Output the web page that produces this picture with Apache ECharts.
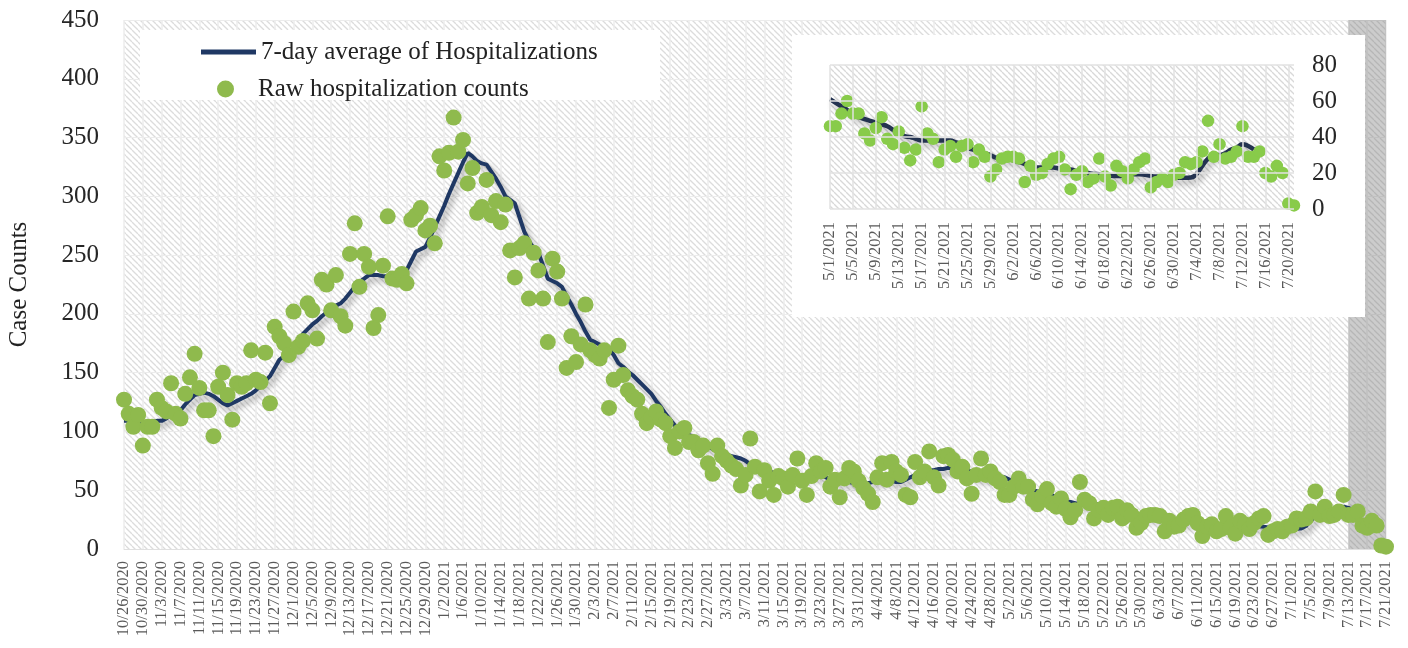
<!DOCTYPE html>
<html>
<head>
<meta charset="utf-8">
<script src="https://cdn.jsdelivr.net/npm/echarts@6/dist/echarts.min.js"></script>
<style>html,body{margin:0;padding:0;background:#fff}#c{width:1408px;height:648px}</style>
</head>
<body>
<div id="c"></div>
<script>
// ---------- DATA ----------
const startDate = [2020, 9, 26];   // 10/26/2020
const dayCount = 269;              // through 7/21/2021
const insetStartIndex = 187;       // 5/1/2021

const seriesNames = ['7-day average of Hospitalizations', 'Raw hospitalization counts'];
const yTicksMain = [0, 50, 100, 150, 200, 250, 300, 350, 400, 450];
const yTicksInset = [0, 20, 40, 60, 80];
const shadedFrom = '7/13/2021';
const shadedTo = '7/21/2021';

// raw counts 10/26/2020 - 4/30/2021
const rawOctApr = [
 127,115,104,114,88,104,104,127,120,117,
 141,115,111,132,146,166,137,118,118,96,
 138,150,131,110,141,138,141,169,144,142,
 167,124,189,181,175,165,202,172,177,209,
 203,179,229,225,203,233,198,190,251,277,
 223,251,240,188,199,241,283,230,229,234,
 226,280,284,290,271,275,260,334,322,337,
 367,338,348,311,324,286,291,314,284,296,
 278,293,254,231,256,260,213,252,237,213,
 176,247,236,213,154,181,159,174,208,169,
 165,162,169,120,144,173,148,135,130,127,
 115,107,112,117,110,107,96,86,100,103,
 91,91,84,88,73,64,88,79,75,71,
 68,54,63,94,70,49,67,58,46,62,
 60,53,63,77,58,46,62,73,66,69,
 53,59,44,60,69,66,58,52,47,40,
 61,73,59,74,66,63,46,44,74,61,
 66,83,61,54,79,80,76,66,70,60,
 47,63,77,63,66,60,57
];
// raw counts 5/1/2021 - 7/21/2021
const rawMayJul = [
 46,46,53,60,53,53,42,38,45,51,
 39,36,43,34,27,33,57,42,39,26,
 33,35,29,35,36,26,33,29,18,22,
 28,29,29,28,15,24,19,20,25,28,
 29,22,11,19,21,15,17,28,18,13,
 24,21,17,22,26,28,12,15,17,15,
 19,20,26,25,26,32,49,29,36,28,
 29,32,46,29,29,32,20,18,24,20,
 3,2
];
// 7-day average, 10/26/2020 - 4/30/2021
const avgOctApr = [
 109,109,108,108,108,108,108,109,109,111,
 114,116,118,123,127,131,132,133,132,130,
 127,124,122,124,126,128,130,132,135,139,
 143,147,154,161,164,166,167,172,183,187,
 191,194,198,201,204,207,209,213,218,223,
 227,230,233,233,233,232,232,230,229,233,
 237,245,253,255,257,265,274,283,292,302,
 311,320,329,337,334,330,328,327,321,315,
 308,300,297,294,282,270,262,256,252,241,
 230,228,226,223,215,208,200,193,185,178,
 176,174,172,171,165,158,155,151,148,144,
 140,136,132,126,121,115,110,105,102,100,
 97,95,92,90,87,85,83,82,80,79,
 78,77,75,72,70,69,67,66,65,64,
 63,62,62,62,62,62,63,63,63,61,
 59,57,57,57,57,56,56,56,56,57,
 58,59,59,58,57,57,59,61,63,65,
 66,67,67,68,68,69,69,70,70,68,
 65,61,61,61,60,60,61
];
// 7-day average, 5/1/2021 - 7/21/2021
const avgMayJul = [
 61,59,57,55,52,51,50,49,48,47,
 46,44,42,40.5,40,39,38,38,38,38,
 38,38,37,36,34,33,32,31,30,28.5,
 28,27.6,27,26,25,23,23,23,23,23,
 22.5,22,22,21,20.5,20,19.5,19.3,19,18.5,
 18.4,18.5,19,19.3,19.3,19,18.4,18,17.8,17.5,
 17.5,17.3,17.3,17.5,19.5,24,28,30,30,31,
 33,34,36,35,33,null,null,null,null,null,
 null,null
];

// ---------- BUILD ----------
const dates = [];
for (let k = 0; k < dayCount; k++) {
  const d = new Date(Date.UTC(startDate[0], startDate[1], startDate[2] + k));
  dates.push((d.getUTCMonth() + 1) + '/' + d.getUTCDate() + '/' + d.getUTCFullYear());
}
const rawAll = rawOctApr.concat(rawMayJul);
const avgAll = avgOctApr.concat(avgMayJul);
const insetDates = dates.slice(insetStartIndex);

function hatch(bg, fg, s, w) {
  const c = document.createElement('canvas');
  c.width = s; c.height = s;
  const g = c.getContext('2d');
  g.fillStyle = bg; g.fillRect(0, 0, s, s);
  g.strokeStyle = fg; g.lineWidth = w;
  for (const k of [-s, 0, s]) { g.beginPath(); g.moveTo(k, 0); g.lineTo(k + s, s); g.stroke(); }
  return { image: c, repeat: 'repeat' };
}

const SERIF = '"Liberation Serif", "DejaVu Serif", serif';
const GREEN = '#8FBA4D';
const GREEN2 = '#88CB4A';
const NAVY = '#1F3864';
const legendText = { fontFamily: SERIF, fontSize: 25, color: '#222', lineHeight: 28 };

const chart = echarts.init(document.getElementById('c'), null, { renderer: 'canvas' });
chart.setOption({
  animation: false,
  backgroundColor: '#fff',
  graphic: { elements: [
    { type: 'rect', silent: true, z: 5, shape: { x: 140, y: 30, width: 520, height: 70 }, style: { fill: '#fff' } },
    { type: 'rect', silent: true, z: 5, shape: { x: 792, y: 35, width: 573, height: 282 }, style: { fill: '#fff' } }
  ] },
  legend: [
    { left: 196, top: 33, itemWidth: 55, itemHeight: 5, z: 10, selectedMode: false,
      data: [{ name: seriesNames[0], icon: 'rect' }], textStyle: legendText },
    { left: 212, top: 70, itemWidth: 55, itemHeight: 17, z: 10, selectedMode: false,
      data: [{ name: seriesNames[1], icon: 'circle' }], textStyle: legendText }
  ],
  grid: [
    { left: 124, right: 22, top: 20, bottom: 99, show: true, borderWidth: 0, z: 0,
      containLabel: false, outerBoundsMode: 'none',
      backgroundColor: hatch('#ffffff', '#dcdcdc', 6, 1.3) },
    { left: 830, top: 65, width: 464, height: 144, show: true, borderWidth: 0, z: 6,
      containLabel: false, outerBoundsMode: 'none',
      backgroundColor: hatch('#ffffff', '#d8d8d8', 6, 1.3) }
  ],
  xAxis: [
    { type: 'category', gridIndex: 0, data: dates, boundaryGap: false,
      axisLine: { show: true, lineStyle: { color: '#e0e0e0' } }, axisTick: { show: false },
      axisLabel: { interval: 3, rotate: 90, margin: 12, fontFamily: SERIF, fontSize: 16.5, color: '#595959' },
      splitLine: { show: true, interval: 3, lineStyle: { color: '#ececec', width: 1.5 } } },
    { type: 'category', gridIndex: 1, data: insetDates, boundaryGap: false, z: 9,
      axisLine: { show: false }, axisTick: { show: false },
      axisLabel: { interval: 3, rotate: 90, margin: 13, fontFamily: SERIF, fontSize: 16.5, color: '#595959' },
      splitLine: { show: true, interval: 3, lineStyle: { color: '#e2e2e2', width: 1.5 } } }
  ],
  yAxis: [
    { type: 'value', gridIndex: 0, min: yTicksMain[0], max: yTicksMain[yTicksMain.length - 1], interval: 50,
      name: 'Case Counts', nameLocation: 'middle', nameGap: 92, nameRotate: 90,
      nameTextStyle: { fontFamily: SERIF, fontSize: 25, color: '#222' },
      axisLine: { show: false }, axisTick: { show: false },
      axisLabel: { margin: 25, fontFamily: SERIF, fontSize: 25, color: '#262626' },
      splitLine: { show: true, lineStyle: { color: '#ececec', width: 1 } } },
    { type: 'value', gridIndex: 1, position: 'right', min: yTicksInset[0], max: yTicksInset[yTicksInset.length - 1], interval: 20, z: 9,
      axisLine: { show: false }, axisTick: { show: false },
      axisLabel: { margin: 18, fontFamily: SERIF, fontSize: 25, color: '#262626' },
      splitLine: { show: true, lineStyle: { color: '#e2e2e2', width: 1.5 } } }
  ],
  series: [
    { name: seriesNames[0], type: 'line', xAxisIndex: 0, yAxisIndex: 0, data: avgAll, z: 2,
      showSymbol: false, symbol: 'none', connectNulls: false,
      itemStyle: { color: NAVY },
      lineStyle: { color: NAVY, width: 4, shadowColor: 'rgba(0,0,0,0.35)', shadowBlur: 6, shadowOffsetX: 3, shadowOffsetY: 4 } },
    { name: seriesNames[1], type: 'scatter', xAxisIndex: 0, yAxisIndex: 0, data: rawAll, z: 3,
      symbolSize: 16, itemStyle: { color: GREEN, opacity: 1 } },
    { name: 'shadeMain', type: 'line', xAxisIndex: 0, yAxisIndex: 0, data: [], z: 4,
      markArea: { silent: true, itemStyle: { color: 'rgba(120,120,120,0.38)' },
        data: [[{ xAxis: shadedFrom }, { xAxis: shadedTo }]] } },
    { name: 'insetAvg', type: 'line', xAxisIndex: 1, yAxisIndex: 1, data: avgMayJul, z: 7,
      showSymbol: false, symbol: 'none', smooth: true,
      lineStyle: { color: '#243350', width: 4.5, shadowColor: 'rgba(0,0,0,0.3)', shadowBlur: 6, shadowOffsetX: 3, shadowOffsetY: 4 } },
    { name: 'insetRaw', type: 'scatter', xAxisIndex: 1, yAxisIndex: 1, data: rawMayJul, z: 8,
      symbolSize: 12.5, itemStyle: { color: GREEN2, opacity: 1 } },
    { name: 'shadeInset', type: 'line', xAxisIndex: 1, yAxisIndex: 1, data: [], z: 9,
      markArea: { silent: true, itemStyle: { color: 'rgba(120,120,120,0.3)' },
        data: [[{ xAxis: shadedFrom }, { xAxis: shadedTo }]] } }
  ]
});
</script>
</body>
</html>
